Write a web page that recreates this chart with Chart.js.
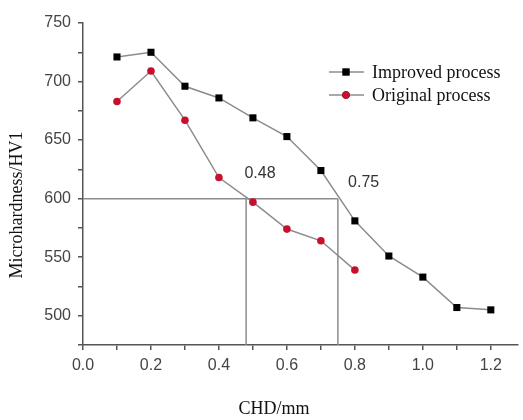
<!DOCTYPE html>
<html>
<head>
<meta charset="utf-8">
<script src="https://cdn.jsdelivr.net/npm/chart.js@4"></script>
<style>
  html, body { margin: 0; padding: 0; background: #fff; }
  #wrap { width: 523px; height: 420px; }
</style>
</head>
<body>
<div id="wrap"><canvas id="c" width="523" height="420"></canvas></div>
<script>
// depth values (mm)
const depthImproved = [0.1, 0.2, 0.3, 0.4, 0.5, 0.6, 0.7, 0.8, 0.9, 1.0, 1.1, 1.2];
const hardImproved = [721, 725, 696, 686, 669, 653, 624, 581, 551, 533, 507, 505];
const depthOriginal = [0.1, 0.2, 0.3, 0.4, 0.5, 0.6, 0.7, 0.8];
const hardOriginal = [683, 709, 667, 618, 597, 574, 564, 539];

// x tick positions (labels only on every other one)
const xTicks = [0, 0.1, 0.2, 0.3, 0.4, 0.5, 0.6, 0.7, 0.8, 0.9, 1.0, 1.1, 1.2];

// 600 HV1 reference and the depths where each curve crosses it
const refHardness = 600;
const crossOriginal = 0.48;
const crossImproved = 0.75;

const xMin = 0, xMax = 1.28, yMin = 475, yMax = 750;

const axisColor = '#555';
const lineGray = '#8c8c8c';
const serif = "'Liberation Serif', 'DejaVu Serif', serif";
const sans = "'Liberation Sans', 'DejaVu Sans', sans-serif";

function pts(xs, ys) {
    return xs.map((x, i) => ({x: x, y: ys[i]}));
}

// labels, legend and axis titles drawn on top
const extras = {
    id: 'extras',
    afterDraw(chart) {
        const ctx = chart.ctx;
        const xs = chart.scales.x, ys = chart.scales.y;
        ctx.save();

        // crossing labels
        ctx.fillStyle = '#333';
        ctx.font = '16px ' + sans;
        ctx.textAlign = 'left';
        ctx.textBaseline = 'middle';
        ctx.fillText(crossOriginal.toFixed(2), xs.getPixelForValue(0.475), ys.getPixelForValue(621));
        ctx.fillText(crossImproved.toFixed(2), xs.getPixelForValue(0.78), ys.getPixelForValue(614));

        // legend
        const legend = [chart.data.datasets[0], chart.data.datasets[1]];
        legend.forEach((ds, i) => {
            const y = 72 + i * 23;
            ctx.strokeStyle = ds.borderColor;
            ctx.lineWidth = 1.5;
            ctx.beginPath();
            ctx.moveTo(329, y);
            ctx.lineTo(364, y);
            ctx.stroke();
            Chart.helpers.drawPoint(ctx, {
                pointStyle: ds.pointStyle,
                radius: ds.pointRadius,
                borderWidth: 0
            }, 346, y);
            ctx.fillStyle = ds.pointBackgroundColor;
            ctx.fill();
            ctx.fillStyle = '#111';
            ctx.font = '18px ' + serif;
            ctx.fillText(ds.label, 372, y + 1);
        });

        // axis titles
        ctx.fillStyle = '#111';
        ctx.font = '18px ' + serif;
        ctx.textAlign = 'center';
        ctx.fillText('CHD/mm', 274, 409);
        ctx.translate(17, 205);
        ctx.rotate(-Math.PI / 2);
        ctx.fillText('Microhardness/HV1', 0, 0);
        ctx.restore();
    }
};

new Chart(document.getElementById('c'), {
    type: 'line',
    data: {
        datasets: [
            {
                label: 'Improved process',
                data: pts(depthImproved, hardImproved),
                borderColor: lineGray,
                borderWidth: 1.5,
                pointStyle: 'rect',
                pointRadius: 5,
                pointBorderWidth: 0,
                pointBackgroundColor: '#000',
                order: 1
            },
            {
                label: 'Original process',
                data: pts(depthOriginal, hardOriginal),
                borderColor: lineGray,
                borderWidth: 1.5,
                pointStyle: 'circle',
                pointRadius: 3.8,
                pointBorderWidth: 0,
                pointBackgroundColor: '#c8102e',
                order: 2
            },
            {
                label: 'ref',
                data: [{x: xMin, y: refHardness}, {x: crossImproved, y: refHardness}],
                borderColor: lineGray,
                borderWidth: 1.5,
                pointRadius: 0,
                order: 3
            },
            {
                label: 'ref048',
                data: [{x: crossOriginal, y: refHardness}, {x: crossOriginal, y: yMin}],
                borderColor: lineGray,
                borderWidth: 1.5,
                pointRadius: 0,
                order: 3
            },
            {
                label: 'ref075',
                data: [{x: crossImproved, y: refHardness}, {x: crossImproved, y: yMin}],
                borderColor: lineGray,
                borderWidth: 1.5,
                pointRadius: 0,
                order: 3
            }
        ]
    },
    options: {
        responsive: false,
        animation: false,
        layout: {padding: {top: 23, right: 0, left: 0, bottom: 0}},
        plugins: {
            legend: {display: false},
            tooltip: {enabled: false}
        },
        scales: {
            x: {
                type: 'linear',
                min: xMin,
                max: xMax,
                afterFit: s => { s.height = 75; },
                afterBuildTicks: s => {
                    s.ticks = xTicks.map(v => ({value: v}));
                },
                border: {display: true, color: axisColor, width: 1.5},
                grid: {display: true, drawOnChartArea: false, drawTicks: true, tickLength: 5, color: axisColor, lineWidth: 1.5},
                ticks: {
                    autoSkip: false,
                    maxRotation: 0,
                    padding: 6,
                    color: '#444',
                    font: {family: sans, size: 16},
                    callback: v => {
                        const t = Math.round(v * 10);
                        return t % 2 === 0 ? (t / 10).toFixed(1) : '';
                    }
                }
            },
            y: {
                min: yMin,
                max: yMax,
                afterFit: s => { s.width = 83; },
                border: {display: true, color: axisColor, width: 1.5},
                grid: {display: true, drawOnChartArea: false, drawTicks: true, tickLength: 5, color: axisColor, lineWidth: 1.5},
                ticks: {
                    stepSize: 25,
                    autoSkip: false,
                    padding: 7,
                    color: '#444',
                    font: {family: sans, size: 16},
                    callback: v => (v % 50 === 0 && v >= 500) ? String(v) : ''
                }
            }
        }
    },
    plugins: [extras]
});
</script>
</body>
</html>
